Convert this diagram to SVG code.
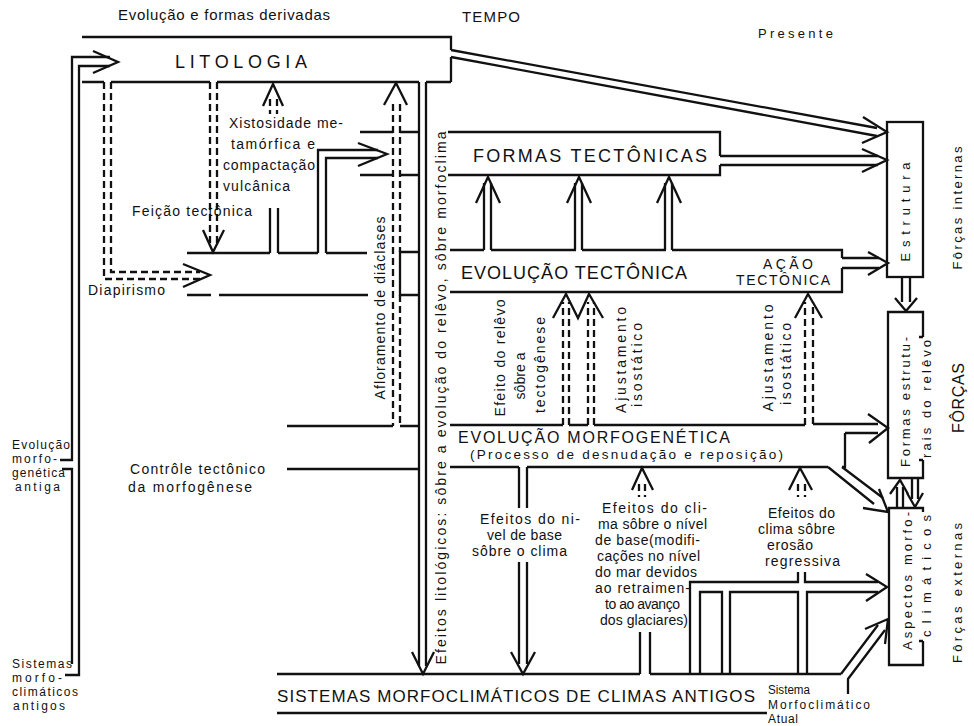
<svg xmlns="http://www.w3.org/2000/svg" width="974" height="726" viewBox="0 0 974 726">
<style>
.l{fill:none;stroke:#111;stroke-width:2.3}
.d{stroke-dasharray:7 4}
.t{font-family:"Liberation Sans",Arial,sans-serif;font-size:14px;fill:#111}
.b{font-size:18px}
.m{text-anchor:middle}
.s{font-size:12px}
</style>
<rect width="974" height="726" fill="#fff"/>

<g id="litologia">
<path class="l" d="M82,37H451V50M451,57V82M82,82H104M111,82H210M217,82H419M426,82H451"/>
<text class="t b" x="175" y="68" textLength="132" lengthAdjust="spacing">LITOLOGIA</text>
</g>

<g id="formas-tectonicas">
<path class="l" d="M360,132H393M400,132H419M448,132H720V156M720,165V175H448M360,175H393M400,175H419"/>
<text class="t b" x="473" y="162" textLength="234" lengthAdjust="spacing">FORMAS TECTÔNICAS</text>
</g>

<g id="evolucao-tectonica">
<path class="l" d="M187,253H270M278,253H318M326,253H367M419,252H400V295H419M187,295H211M219,295H368M450,250H484M491,250H576M582,250H666M672,250H842V258M842,268V292H450"/>
<text class="t b" x="461" y="279" textLength="226" lengthAdjust="spacing">EVOLUÇÃO TECTÔNICA</text>
<text class="t" x="763" y="269" textLength="50" lengthAdjust="spacing">AÇÃO</text>
<text class="t" x="736" y="285" textLength="94" lengthAdjust="spacing">TECTÔNICA</text>
</g>

<g id="evolucao-morfogenetica">
<path class="l" d="M287,426H393M400,426H419M450,425H563M569,425H588M594,425H805M287,469H419M450,467H519M527,467H828M842,467H845V433"/>
<text class="t" style="font-size:16px" x="458" y="443" textLength="272" lengthAdjust="spacing">EVOLUÇÃO MORFOGENÉTICA</text>
<text class="t" style="font-size:13.5px" x="470" y="459" textLength="313" lengthAdjust="spacing">(Processo de desnudação e reposição)</text>
</g>

<g id="sistemas-antigos">
<path class="l" d="M277,674H640M650,674H841M277,713H767"/>
<text class="t" style="font-size:17px" x="277" y="702" textLength="478" lengthAdjust="spacing">SISTEMAS MORFOCLIMÁTICOS DE CLIMAS ANTIGOS</text>
</g>

<g id="estrutura">
<rect class="l" x="887" y="122" width="36" height="155"/>
<text class="t m" style="font-size:13px" transform="translate(910,212) rotate(-90)" textLength="99" lengthAdjust="spacing">Estrutura</text>
</g>

<g id="formas-estruturais">
<path class="l" d="M923,337V312H888V478H923V460M919,337H923M919,460H923"/>
<text class="t m" style="font-size:13px" transform="translate(910,402) rotate(-90)" textLength="130" lengthAdjust="spacing">Formas estrutu-</text>
<text class="t m" style="font-size:13px" transform="translate(931,399) rotate(-90)" textLength="118" lengthAdjust="spacing">rais do relêvo</text>
</g>

<g id="aspectos-morfoclimaticos">
<path class="l" d="M923,512V508H889V665H923V641M919,641H923"/>
<text class="t m" style="font-size:13px" transform="translate(912,581) rotate(-90)" textLength="138" lengthAdjust="spacing">Aspectos morfo-</text>
<text class="t m" style="font-size:13px" transform="translate(931,576) rotate(-90)" textLength="122" lengthAdjust="spacing">climáticos</text>
</g>

<g id="connectors">
<path class="l" d="M60,460H72V57H110M110,66H79V675H65M62,469H72V664"/>
<path class="l" d="M93,51L118,62L93,73"/>
<path class="l d" d="M104,82V279H200M111,82V272H200"/>
<path class="l" d="M183,264L210,275L183,287"/>
<path class="l d" d="M210,82V246M217,82V246"/>
<path class="l" d="M203,230L213,252L224,230"/>
<path class="l" d="M263,106L273,84L283,106"/>
<path class="l d" d="M270,99V114M277,99V114"/>
<path class="l" d="M270,208V253M278,208V253"/>
<path class="l" d="M318,253V150H378M326,253V158H378"/>
<path class="l" d="M358,143L387,154L358,166"/>
<path class="l d" d="M393,104V426M400,104V252M400,295V426"/>
<path class="l" d="M384,105L396,83L407,105"/>
<path class="l" d="M419,82V666M426,82V666"/>
<path class="l" d="M412,652L423,674L434,652"/>
<path class="l" d="M484,250V183M491,250V183M575,250V183M582,250V183M665,250V183M672,250V183"/>
<path class="l" d="M476,203L488,177L500,203M567,203L579,177L591,203M657,203L669,177L681,203"/>
<path class="l" d="M451,50L877,128M451,57L877,136"/>
<path class="l" d="M863,117L887,132L862,143"/>
<path class="l" d="M720,156H878M720,165H878"/>
<path class="l" d="M862,149L887,160L862,172"/>
<path class="l" d="M842,258H879M842,268H879"/>
<path class="l" d="M868,252L888,263L868,275"/>
<path class="l d" d="M563,425V302M569,425V302M588,425V302M594,425V302M805,425V302M813,424V302"/>
<path class="l" d="M553,318L566,294L578,318L589,294L603,318M795,318L808,294L822,318"/>
<path class="l" d="M813,424H878M845,433H878"/>
<path class="l" d="M868,414L888,428L869,443"/>
<path class="l" d="M902,277V302M910,277V302"/>
<path class="l" d="M895,298L906,311L917,298"/>
<path class="l" d="M897,508V487M903,508V487M912,478V499M918,478V499"/>
<path class="l" d="M890,494L900,480L908,494M907,493L915,507L923,493"/>
<path class="l" d="M828,467L874,504M842,467L883,498"/>
<path class="l" d="M863,508L888,512L879,489"/>
<path class="l" d="M519,467V508M527,467V508M519,562V664M527,562V664"/>
<path class="l" d="M511,652L523,674L535,652"/>
<path class="l" d="M632,490L642,468L653,490"/>
<path class="l d" d="M639,484V497M645,484V497"/>
<path class="l" d="M640,632V674M650,632V674"/>
<path class="l" d="M789,490L800,468L812,490"/>
<path class="l d" d="M798,484V497M805,484V497"/>
<path class="l" d="M690,674V582H798V572M805,572V582H878M700,674V592H722V674M730,674V592H798V674M807,674V592H878"/>
<path class="l" d="M866,574L887,587L866,601"/>
<path class="l" d="M841,674L878,625M848,694V679L885,630"/>
<path class="l" d="M865,629L888,619L885,644"/>
</g>

<g id="labels">
<text class="t" style="font-size:15px" x="118" y="20" textLength="212" lengthAdjust="spacing">Evolução e formas derivadas</text>
<text class="t" style="font-size:15px" x="462" y="22" textLength="58" lengthAdjust="spacing">TEMPO</text>
<text class="t" style="font-size:13px" x="758" y="38" textLength="75" lengthAdjust="spacing">Presente</text>
<text class="t" x="229" y="128" textLength="114" lengthAdjust="spacing">Xistosidade me-</text>
<text class="t" x="231" y="149" textLength="84" lengthAdjust="spacing">tamórfica e</text>
<text class="t" x="223" y="170" textLength="92" lengthAdjust="spacing">compactação</text>
<text class="t" x="223" y="191" textLength="67" lengthAdjust="spacing">vulcânica</text>
<text class="t" x="132" y="216" textLength="120" lengthAdjust="spacing">Feição tectônica</text>
<text class="t" x="88" y="295" textLength="77" lengthAdjust="spacing">Diapirismo</text>
<text class="t" x="130" y="474" textLength="135" lengthAdjust="spacing">Contrôle tectônico</text>
<text class="t" x="128" y="492" textLength="124" lengthAdjust="spacing">da morfogênese</text>
<text class="t s" x="12" y="449" textLength="58" lengthAdjust="spacing">Evolução</text>
<text class="t s" x="12" y="463" textLength="45" lengthAdjust="spacing">morfo-</text>
<text class="t s" x="12" y="477" textLength="53" lengthAdjust="spacing">genética</text>
<text class="t s" x="15" y="491" textLength="45" lengthAdjust="spacing">antiga</text>
<text class="t s" x="12" y="668" textLength="60" lengthAdjust="spacing">Sistemas</text>
<text class="t s" x="12" y="682" textLength="50" lengthAdjust="spacing">morfo-</text>
<text class="t s" x="12" y="696" textLength="66" lengthAdjust="spacing">climáticos</text>
<text class="t s" x="13" y="710" textLength="52" lengthAdjust="spacing">antigos</text>
<text class="t m" transform="translate(446,398) rotate(-90)" textLength="533" lengthAdjust="spacing">Efeitos litológicos: sôbre a evolução do relêvo, sôbre morfoclima</text>
<text class="t m" transform="translate(385,308) rotate(-90)" textLength="183" lengthAdjust="spacing">Afloramento de diáclases</text>
<text class="t m" transform="translate(505,358) rotate(-90)" textLength="117" lengthAdjust="spacing">Efeito do relêvo</text>
<text class="t m" transform="translate(525,376) rotate(-90)" textLength="47" lengthAdjust="spacing">sôbre a</text>
<text class="t m" transform="translate(545,365) rotate(-90)" textLength="96" lengthAdjust="spacing">tectogênese</text>
<text class="t m" transform="translate(626,360) rotate(-90)" textLength="106" lengthAdjust="spacing">Ajustamento</text>
<text class="t m" transform="translate(642,365) rotate(-90)" textLength="84" lengthAdjust="spacing">isostático</text>
<text class="t m" transform="translate(773,358) rotate(-90)" textLength="107" lengthAdjust="spacing">Ajustamento</text>
<text class="t m" transform="translate(791,364) rotate(-90)" textLength="82" lengthAdjust="spacing">isostático</text>
<text class="t" x="480" y="524" textLength="100" lengthAdjust="spacing">Efeitos do ni-</text>
<text class="t" x="487" y="540" textLength="75" lengthAdjust="spacing">vel de base</text>
<text class="t" x="472" y="556" textLength="95" lengthAdjust="spacing">sôbre o clima</text>
<text class="t" x="602" y="513" textLength="105" lengthAdjust="spacing">Efeitos do cli-</text>
<text class="t" x="598" y="529" textLength="109" lengthAdjust="spacing">ma sôbre o nível</text>
<text class="t" x="595" y="545" textLength="105" lengthAdjust="spacing">de base(modifi-</text>
<text class="t" x="597" y="561" textLength="103" lengthAdjust="spacing">cações no nível</text>
<text class="t" x="595" y="577" textLength="102" lengthAdjust="spacing">do mar devidos</text>
<text class="t" x="595" y="593" textLength="95" lengthAdjust="spacing">ao retraimen-</text>
<text class="t" x="605" y="609" textLength="75" lengthAdjust="spacing">to ao avanço</text>
<text class="t" x="600" y="625" textLength="88" lengthAdjust="spacing">dos glaciares)</text>
<text class="t" x="768" y="518" textLength="67" lengthAdjust="spacing">Efeitos do</text>
<text class="t" x="758" y="534" textLength="77" lengthAdjust="spacing">clima sôbre</text>
<text class="t" x="767" y="550" textLength="46" lengthAdjust="spacing">erosão</text>
<text class="t" x="765" y="566" textLength="75" lengthAdjust="spacing">regressiva</text>
<text class="t s" x="768" y="694" textLength="42" lengthAdjust="spacingAndGlyphs">Sistema</text>
<text class="t s" x="768" y="709" textLength="102" lengthAdjust="spacing">Morfoclimático</text>
<text class="t s" x="768" y="723" textLength="30" lengthAdjust="spacing">Atual</text>
<text class="t m" style="font-size:13px" transform="translate(962,208) rotate(-90)" textLength="123" lengthAdjust="spacing">Fôrças internas</text>
<text class="t m" style="font-size:16px" transform="translate(964,398) rotate(-90)" textLength="70" lengthAdjust="spacing">FÔRÇAS</text>
<text class="t m" style="font-size:13px" transform="translate(962,593) rotate(-90)" textLength="140" lengthAdjust="spacing">Fôrças externas</text>
</g>
</svg>
